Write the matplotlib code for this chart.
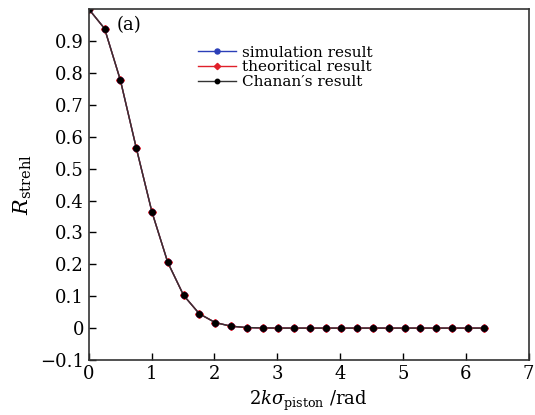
import numpy as np
import matplotlib
matplotlib.use("Agg")
import matplotlib.pyplot as plt

plt.rcParams['font.family'] = ['DejaVu Serif']
plt.rcParams['mathtext.fontset'] = 'dejavuserif'

x_vals = [0.0, 0.251, 0.503, 0.754, 1.005, 1.257, 1.508, 1.759, 2.011, 2.262,
          2.513, 2.765, 3.016, 3.267, 3.519, 3.770, 4.021, 4.273, 4.524, 4.775,
          5.027, 5.278, 5.529, 5.781, 6.032, 6.283]
sim_vals = [1.0, 0.939, 0.777, 0.566, 0.364, 0.206, 0.103, 0.045, 0.0175, 0.006,
            0.0018, 0.0005, 0.0001, 0.0, 0.0, 0.0, 0.0, 0.0, 0.0, 0.0,
            0.0, 0.0, 0.0, 0.0, 0.0, 0.0]
theo_vals = [1.0, 0.939, 0.777, 0.566, 0.364, 0.206, 0.103, 0.045, 0.0175, 0.006,
             0.0018, 0.0005, 0.0001, 0.0, 0.0, 0.0, 0.0, 0.0, 0.0, 0.0,
             0.0, 0.0, 0.0, 0.0, 0.0, 0.0]
chanan_vals = [1.0, 0.939, 0.777, 0.566, 0.364, 0.206, 0.103, 0.045, 0.0175, 0.006,
               0.0018, 0.0005, 0.0001, 0.0, 0.0, 0.0, 0.0, 0.0, 0.0, 0.0,
               0.0, 0.0, 0.0, 0.0, 0.0, 0.0]
series_labels = ["simulation result", "theoritical result", "Chanan\u2032s result"]
y_ticks = [-0.1, 0, 0.1, 0.2, 0.3, 0.4, 0.5, 0.6, 0.7, 0.8, 0.9]
y_ticklabels = ["\u22120.1", "0", "0.1", "0.2", "0.3", "0.4", "0.5", "0.6", "0.7", "0.8", "0.9"]
x_ticks = [0, 1, 2, 3, 4, 5, 6, 7]

fig = plt.figure(figsize=(5.35, 4.15), dpi=100)
ax = fig.add_axes([0.166, 0.1325, 0.822, 0.8455])

ax.plot(x_vals, sim_vals, color='#2b3fb8', lw=1.0, marker='o', ms=4.5, label=series_labels[0])
ax.plot(x_vals, theo_vals, color='#e0202a', lw=1.0, marker='D', ms=4, label=series_labels[1])
ax.plot(x_vals, chanan_vals, color='#333333', lw=1.0, marker='o', ms=4, mfc='black', mec='black',
        label=series_labels[2])

ax.set_xlim(0, 7)
ax.set_ylim(-0.1, 1.0)
ax.set_xticks(x_ticks)
ax.set_xticklabels([str(t) for t in x_ticks])
ax.set_yticks(y_ticks)
ax.set_yticklabels(y_ticklabels)
ax.tick_params(direction='in', labelsize=13, length=5, width=1, top=False, right=False)
for s in ax.spines.values():
    s.set_linewidth(1.2)
    s.set_color('#333333')

ax.set_xlabel(r'$2k\sigma_{\rm piston}$ /rad', fontsize=13)
ax.set_ylabel(r'$R_{\rm strehl}$', fontsize=15)
ax.text(0.44, 0.95, '(a)', fontsize=13, va='center')

leg = ax.legend(loc='upper left', bbox_to_anchor=(0.217, 0.935), frameon=False, fontsize=11,
                handlelength=2.5, handletextpad=0.4, labelspacing=0.05, markerscale=0.8)

fig.savefig('out.png', dpi=100)
